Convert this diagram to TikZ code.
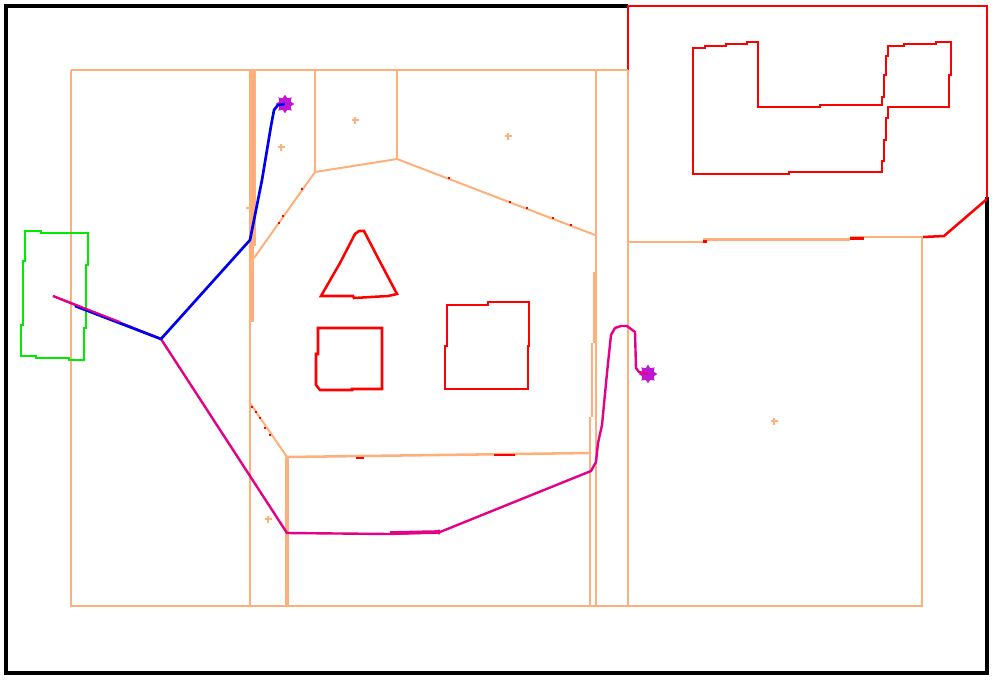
\documentclass[tikz,border=0pt]{standalone}
\usetikzlibrary{shapes.geometric}
\definecolor{wallc}{RGB}{255,176,122}
\definecolor{obst}{RGB}{255,0,0}
\definecolor{pathb}{RGB}{0,0,240}
\definecolor{pathp}{RGB}{228,0,135}
\definecolor{goalc}{RGB}{192,24,210}
\definecolor{greenc}{RGB}{0,235,0}
\tikzset{
  wall/.style={draw=wallc,line width=1.9pt},
  thinwall/.style={draw=wallc,line width=1.5pt},
  obstacle/.style={draw=obst,line width=1.9pt,line join=miter},
  reddot/.style={fill=obst},
  plusmark/.style={draw=wallc,line width=1.4pt},
  bluepath/.style={draw=pathb,line width=2pt,line join=round},
  pinkpath/.style={draw=pathp,line width=1.8pt,line join=round},
  goal/.style={star,star points=8,star point ratio=1.5,fill=goalc,inner sep=0pt,minimum size=14pt},
  frameline/.style={draw=black,line width=2.4pt}
}
\begin{document}
\begin{tikzpicture}[x=0.75pt,y=-0.75pt]
\useasboundingbox (0,0) rectangle (996,679);
\fill[white] (0,0) rectangle (996,679);
% black frame
\draw[frameline] (628,6) -- (6,6) -- (6,673) -- (987,673) -- (987,197);
% red boundary top right
\draw[obstacle] (628,70) -- (628,6) -- (987,6) -- (987,198);
\draw[obstacle] (987,199) -- (944,236) -- (923,237);
% orange walls
\draw[wall] (71,70) -- (628,70);
\draw[wall] (71,70) -- (71,606) -- (922,606) -- (922,237);
\draw[wall] (628,70) -- (628,606);
\draw[wall] (596,70) -- (596,606);
\draw[wall] (250,70) -- (250,606);
\fill[wallc] (248.5,70) rectangle (255.5,246);
\fill[wallc] (248.5,246) rectangle (253.5,322);
\draw[wall] (315,70) -- (315,172);
\draw[wall] (397,70) -- (397,159);
\draw[thinwall] (254,258) -- (315,172) -- (397,159) -- (595,235);
\draw[thinwall] (250,403) -- (287,457);
\draw[line width=2.4pt,draw=wallc] (287,457) -- (287,606);
\draw[wall] (287,457) -- (590,453);
\draw[wall] (590,453) -- (590,606);
\draw[wall] (590,417) -- (590,453);
\draw[wall] (592,343) -- (592,417);
\fill[wallc] (593,272) rectangle (597,343);
\draw[wall] (628,242) -- (703,242);
\draw[line width=2.6pt,draw=wallc] (703,239.5) -- (850,239.5);
\draw[wall] (850,237) -- (922,237);
% red marks on walls
\draw[obst,line width=2.4pt] (703,241.5) -- (707,241.5);
\draw[obst,line width=2.8pt] (850,238.5) -- (864,238.5);
\draw[obst,line width=2.2pt] (356,458) -- (364,458);
\draw[obst,line width=2.2pt] (494,455) -- (515,455);
\foreach \p in {(302,189),(283,216),(279,223),(449,178),(510,202),(527,208),(553,218),(571,225),(252,407),(256,412),(260,418),(265,428),(270,435)}
  \fill[reddot] \p ++(-1.2,-1.2) rectangle ++(2.4,2.4);
% plus markers
\foreach \p in {(355,120),(508,136),(281,147),(774,421),(268,519)}
  \draw[plusmark] \p ++(-3.5,0) -- ++(7,0) \p ++(0,-3.5) -- ++(0,7);
\draw[plusmark] (439,529) -- (439,535);
\draw[plusmark] (246,208) -- (250,208);
% obstacles
\draw[obstacle] (321,296) -- (340,263) -- (355,234) -- (359,231) -- (364,231) -- (378,258) -- (397,294) -- (388,296) -- (354,298) -- (353,296) -- cycle;
\draw[obstacle] (318,328) -- (382,328) -- (382,389) -- (352,389) -- (352,390) -- (320,390) -- (316,385) -- (316,354) -- (318,354) -- cycle;
\draw[obstacle] (447,305) -- (488,305) -- (488,302) -- (529,302) -- (529,346) -- (528,346) -- (528,389) -- (445,389) -- (445,346) -- (447,346) -- cycle;
\draw[obstacle] (693,48) -- (705,48) -- (705,46) -- (726,46) -- (726,44) -- (747,44) -- (747,42) -- (758,42) -- (758,107) -- (820,107) -- (820,105) -- (882,105) -- (882,97) -- (884,97) -- (884,75) -- (886,75) -- (886,56) -- (888,56) -- (888,46) -- (904,46) -- (904,44) -- (936,44) -- (936,42) -- (951,42) -- (951,75) -- (949,75) -- (949,107) -- (888,107) -- (888,118) -- (886,118) -- (886,140) -- (884,140) -- (884,161) -- (882,161) -- (882,172) -- (789,172) -- (789,174) -- (693,174) -- cycle;
% green area
\draw[draw=greenc,line width=1.9pt] (25,231) -- (41,231) -- (41,233) -- (88,233) -- (88,265) -- (86,265) -- (86,328) -- (84,328) -- (84,360) -- (69,360) -- (69,358) -- (36,358) -- (36,356) -- (21,356) -- (21,325) -- (23,325) -- (23,261) -- (25,261) -- cycle;
% paths
\node[goal] (g1) at (285,104) {};
\node[goal] (g2) at (648,374) {};
\coordinate (s) at (53,296);
\coordinate (j) at (161,339);
\draw[pinkpath] (s) -- (j) -- (287,533) -- (390,534) -- (440,532) -- (591,471) -- (596,462) -- (598,443) -- (602,425) -- (607,373) -- (611,335) -- (615,328) -- (621,326) -- (627,326) -- (635,332) -- (636,368) -- (639,372) -- (g2.center);
\draw[line width=2.8pt,draw=pathp] (390,533) -- (440,532);
\draw[bluepath] (75,306) -- (j) -- (250,240) -- (255,215) -- (262,180) -- (266,156) -- (271,126) -- (274,110) -- (278,105) -- (g1.center);
\draw[pinkpath,line width=1.4pt] (53,296) -- (120,322);
\end{tikzpicture}
\end{document}
